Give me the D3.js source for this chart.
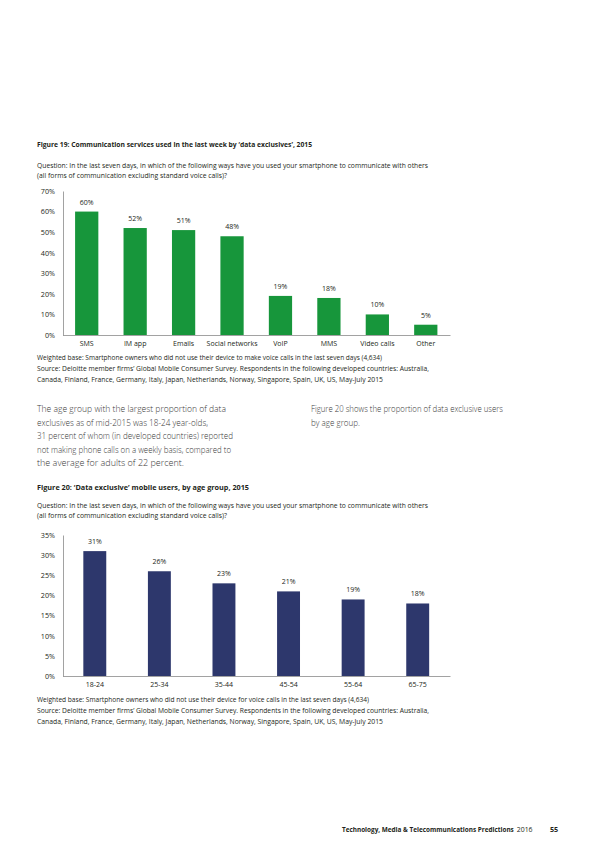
<!DOCTYPE html>
<html><head><meta charset="utf-8">
<script src="https://cdn.jsdelivr.net/npm/d3@7"></script>
<style>body{margin:0;background:#fff}svg{display:block}text{font-family:"Open Sans","Noto Sans",sans-serif}</style>
</head><body>
<script>
const commCategories = ["SMS","IM app","Emails","Social networks","VoIP","MMS","Video calls","Other"];
const commValues = [60,52,51,48,19,18,10,5];
const commTicks = [0,10,20,30,40,50,60,70];
const ageCategories = ["18-24","25-34","35-44","45-54","55-64","65-75"];
const ageValues = [31,26,23,21,19,18];
const ageTicks = [0,5,10,15,20,25,30,35];

const svg = d3.select("body").append("svg").attr("width",600).attr("height",848);
const txt = "#231f20";

function addText(x,y,s,opt={}){
  const t = svg.append("text").attr("x",x).attr("y",y).attr("fill",opt.fill||txt)
    .attr("font-size",opt.size||6.6).attr("font-weight",opt.weight||400).text(s);
  if(opt.anchor) t.attr("text-anchor",opt.anchor);
  if(opt.len) t.attr("textLength",opt.len).attr("lengthAdjust","spacingAndGlyphs");
  return t;
}
// fit text to a width by font size (natural width, no stretching)
function fitText(x,y,s,maxW,opt={}){
  let size = opt.size||7;
  const t = addText(x,y,s,Object.assign({},opt,{size}));
  while(t.node().getComputedTextLength() > maxW && size > 4){ size -= 0.1; t.attr("font-size",size); }
  return t;
}

// Figure 19 texts
addText(37,147,"Figure 19: Communication services used in the last week by \u2018data exclusives\u2019, 2015",{weight:700,len:275});
addText(37,168,"Question: In the last seven days, in which of the following ways have you used your smartphone to communicate with others",{len:391});
addText(37,178,"(all forms of communication excluding standard voice calls)?",{len:190});

function barChart(cats, vals, ticks, yMax, top, bottom, color, pad){
  const x = d3.scaleBand().domain(cats).range([62.5,450]).paddingInner(pad).paddingOuter(pad/2);
  const y = d3.scaleLinear().domain([0,yMax]).range([bottom,top]);
  const g = svg.append("g");
  const ya = g.append("g").attr("transform","translate(63,0)")
    .call(d3.axisLeft(y).tickValues(ticks).tickSize(0).tickPadding(8).tickFormat(d=>d+"%"));
  ya.select(".domain").attr("stroke","#8a8a8a").attr("stroke-width",0.8);
  ya.selectAll("text").attr("font-size",7.2).attr("fill",txt).attr("font-family",'"Open Sans",sans-serif');
  g.selectAll("rect.bar").data(vals).join("rect")
    .attr("x",(d,i)=>x(cats[i])).attr("width",x.bandwidth())
    .attr("y",d=>y(d)).attr("height",d=>bottom-y(d)).attr("fill",color);
  g.selectAll("text.val").data(vals).join("text")
    .attr("x",(d,i)=>x(cats[i])+x.bandwidth()/2).attr("y",d=>y(d)-7)
    .attr("text-anchor","middle").attr("font-size",7).attr("fill",txt).text(d=>d+"%");
  const xa = g.append("g").attr("transform",`translate(0,${bottom})`)
    .call(d3.axisBottom(x).tickSize(0).tickPadding(6));
  xa.select(".domain").attr("stroke","#8a8a8a").attr("stroke-width",0.8);
  xa.selectAll("text").attr("font-size",7).attr("fill",txt).attr("font-family",'"Open Sans",sans-serif');
}

barChart(commCategories, commValues, commTicks, 70, 191, 335, "#17963b", 0.52);

addText(37,360,"Weighted base: Smartphone owners who did not use their device to make voice calls in the last seven days (4,634)",{len:345});
addText(37,371,"Source: Deloitte member firms\u2019 Global Mobile Consumer Survey. Respondents in the following developed countries: Australia,",{len:392});
addText(37,382,"Canada, Finland, France, Germany, Italy, Japan, Netherlands, Norway, Singapore, Spain, UK, US, May-July 2015",{len:346});

// paragraph
const pOpt = {size:8.2, fill:"#3a3a3a", weight:300};
const para = ["The age group with the largest proportion of data",
 "exclusives as of mid-2015 was 18-24 year-olds,",
 "31 percent of whom (in developed countries) reported",
 "not making phone calls on a weekly basis, compared to",
 "the average for adults of 22 percent."];
const paraLen = [189,171,196,194,147];
para.forEach((s,i)=>addText(37,412+i*13.6,s,Object.assign({len:paraLen[i]},pOpt)));
addText(311,412,"Figure 20 shows the proportion of data exclusive users",Object.assign({len:192},pOpt));
addText(311,425.6,"by age group.",Object.assign({len:49},pOpt));

// Figure 20 texts
addText(37,490,"Figure 20: \u2018Data exclusive\u2019 mobile users, by age group, 2015",{weight:700,len:212});
addText(37,508,"Question: In the last seven days, in which of the following ways have you used your smartphone to communicate with others",{len:391});
addText(37,518,"(all forms of communication excluding standard voice calls)?",{len:190});

barChart(ageCategories, ageValues, ageTicks, 35, 535, 676, "#2d376c", 0.645);

addText(37,702,"Weighted base: Smartphone owners who did not use their device for voice calls in the last seven days (4,634)",{len:332});
addText(37,713,"Source: Deloitte member firms\u2019 Global Mobile Consumer Survey. Respondents in the following developed countries: Australia,",{len:392});
addText(37,724,"Canada, Finland, France, Germany, Italy, Japan, Netherlands, Norway, Singapore, Spain, UK, US, May-July 2015",{len:346});

// footer
const f1 = fitText(342,832,"Technology, Media & Telecommunications Predictions",172,{weight:700,size:7});
const f1end = 342 + f1.node().getComputedTextLength();
const f2 = fitText(f1end+3,832,"2016",16,{size:7});
addText(550,832,"55",{weight:700,size:7.2});
</script>
</body></html>
